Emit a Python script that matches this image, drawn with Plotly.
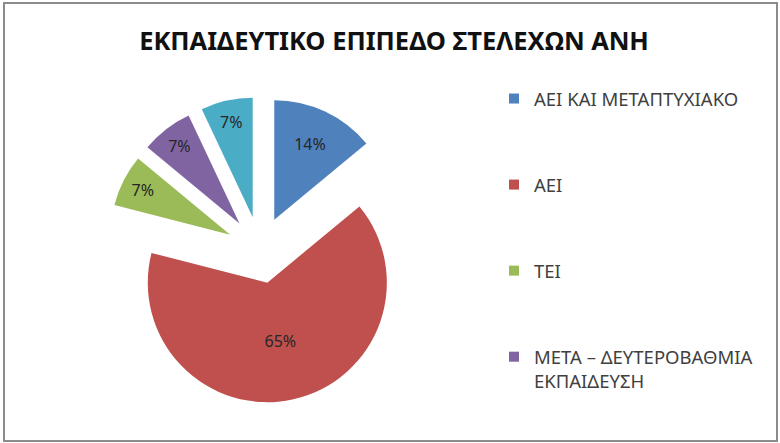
import plotly.graph_objects as go

categories = ["ΑΕΙ ΚΑΙ ΜΕΤΑΠΤΥΧΙΑΚΟ", "ΑΕΙ", "ΤΕΙ", "ΜΕΤΑ – ΔΕΥΤΕΡΟΒΑΘΜΙΑ<br>ΕΚΠΑΙΔΕΥΣΗ", "ΔΕΥΤΕΡΟΒΑΘΜΙΑ"]
shares = [14, 65, 7, 7, 7]
colors = ["#4F81BD", "#C0504D", "#9BBB59", "#8064A2", "#4BACC6"]
legend_shown = 4  # only the first four entries are visible in the original legend

fig = go.Figure()
fig.add_trace(go.Pie(
    labels=categories, values=shares, sort=False, direction="clockwise", rotation=0,
    marker=dict(colors=colors, line=dict(width=0)),
    pull=[0.28] * len(shares),
    textinfo="percent", texttemplate="%{percent:.0%}", textposition="inside",
    insidetextorientation="horizontal",
    textfont=dict(family="Noto Sans", size=16, color="#262626"),
    domain=dict(x=[106/780, 414/780], y=[1-403/443, 1-97/443]),
    showlegend=False,
))
for i in range(legend_shown):
    fig.add_trace(go.Scatter(
        x=[None], y=[None], mode="markers", name=categories[i],
        marker=dict(symbol="square", size=10, color=colors[i]),
        legendgroup=f"g{i}", showlegend=True,
    ))

fig.update_layout(
    width=780, height=443,
    margin=dict(l=0, r=0, t=0, b=0),
    paper_bgcolor="white", plot_bgcolor="white",
    xaxis=dict(visible=False), yaxis=dict(visible=False),
    title=dict(text="<b>ΕΚΠΑΙΔΕΥΤΙΚΟ ΕΠΙΠΕΔΟ ΣΤΕΛΕΧΩΝ ΑΝΗ</b>", x=394/780, xanchor="center",
               y=1-41/443, yanchor="middle",
               font=dict(family="Noto Sans", size=25.5, color="#111111")),
    legend=dict(x=494/780, xanchor="left", y=1-80/443, yanchor="top",
                font=dict(family="Noto Sans", size=18.5, color="#404040"),
                tracegroupgap=59, valign="top", bgcolor="rgba(0,0,0,0)"),
    shapes=[dict(type="rect", xref="paper", yref="paper",
                 x0=4/780, x1=777/780, y0=1-441/443, y1=1-3/443,
                 line=dict(color="#8c8c8c", width=2))],
)
fig.write_html("out.html", config={"displayModeBar": False},
               post_script="document.body.style.margin='0px';")
